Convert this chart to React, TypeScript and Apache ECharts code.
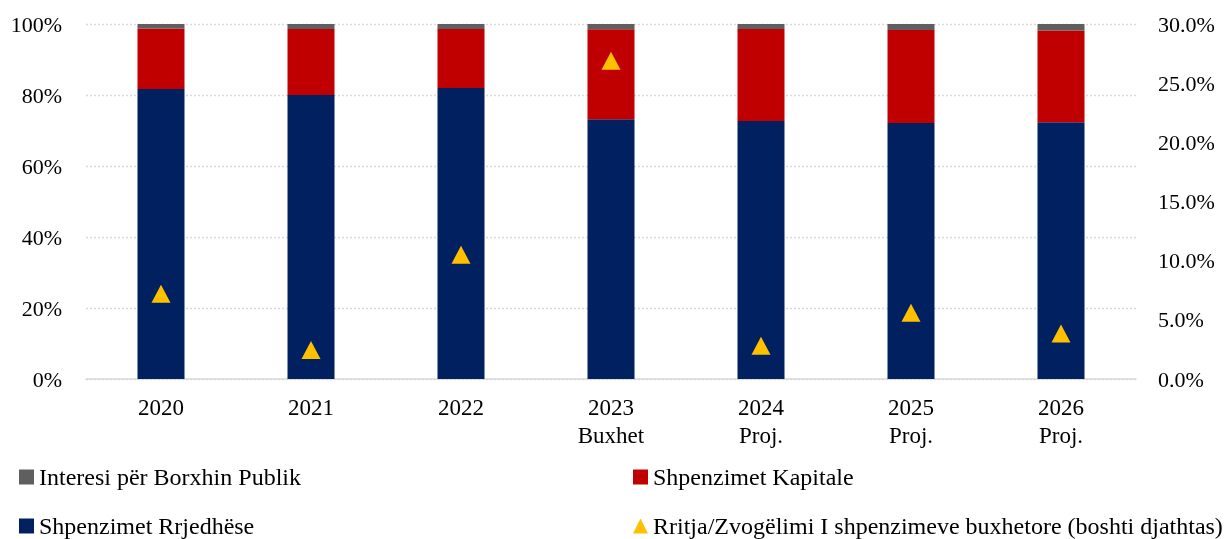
import React, { useEffect, useRef } from "react";
import * as echarts from "echarts";

const categories = ["2020", "2021", "2022", "2023\nBuxhet", "2024\nProj.", "2025\nProj.", "2026\nProj."];
const rrjedhese = [81.7, 80.0, 82.0, 73.2, 72.7, 72.1, 72.3];
const kapitale = [17.0, 18.6, 16.6, 25.3, 25.9, 26.2, 25.9];
const interesi = [1.3, 1.4, 1.4, 1.5, 1.4, 1.7, 1.8];
const rritja = [7.2, 2.45, 10.5, 26.9, 2.8, 5.6, 3.85];

const leftTicks = [0, 20, 40, 60, 80, 100];
const rightTicks = [0, 5, 10, 15, 20, 25, 30];

const NAME_INT = "Interesi për Borxhin Publik";
const NAME_KAP = "Shpenzimet Kapitale";
const NAME_RRJ = "Shpenzimet Rrjedhëse";
const NAME_RRI = "Rritja/Zvogëlimi I shpenzimeve buxhetore (boshti djathtas)";

const FONT = "'Liberation Serif', 'Times New Roman', serif";

export default function App() {
  const ref = useRef<HTMLDivElement>(null);
  useEffect(() => {
    if (!ref.current) return;
    const chart = echarts.init(ref.current, null, { renderer: "svg" });
    const legendText = { color: "#000", fontFamily: FONT, fontSize: 24 };
    const legendBase = {
      orient: "horizontal",
      itemWidth: 15,
      itemHeight: 15,
      itemGap: 0,
      padding: 0,
      selectedMode: false,
      textStyle: legendText,
    };
    chart.setOption({
      animation: false,
      textStyle: { fontFamily: FONT },
      grid: { left: 86, right: 90, top: 24, bottom: 160, containLabel: false },
      legend: [
        { ...legendBase, left: 19, top: 465, data: [{ name: NAME_INT, icon: "rect" }] },
        { ...legendBase, left: 633, top: 465, data: [{ name: NAME_KAP, icon: "rect" }] },
        { ...legendBase, left: 19, top: 514, data: [{ name: NAME_RRJ, icon: "rect" }] },
        { ...legendBase, left: 633, top: 514, data: [{ name: NAME_RRI, icon: "triangle" }] },
      ],
      xAxis: {
        type: "category",
        data: categories,
        axisLine: { show: true, lineStyle: { color: "#d9d9d9", width: 1.5 } },
        axisTick: { show: false },
        axisLabel: { color: "#000", fontFamily: FONT, fontSize: 23, lineHeight: 28, margin: 14 },
      },
      yAxis: [
        {
          type: "value",
          min: leftTicks[0],
          max: leftTicks[leftTicks.length - 1],
          interval: 20,
          axisLine: { show: false },
          axisTick: { show: false },
          splitLine: { show: true, lineStyle: { color: "#d9d9d9", type: [2, 2], width: 1.3 } },
          axisLabel: { color: "#000", fontFamily: FONT, fontSize: 22, margin: 24, formatter: (v: number) => `${v}%` },
        },
        {
          type: "value",
          min: rightTicks[0],
          max: rightTicks[rightTicks.length - 1],
          interval: 5,
          position: "right",
          axisLine: { show: false },
          axisTick: { show: false },
          splitLine: { show: false },
          axisLabel: { color: "#000", fontFamily: FONT, fontSize: 22, margin: 22, formatter: (v: number) => `${v.toFixed(1)}%` },
        },
      ],
      series: [
        {
          name: NAME_RRJ,
          type: "bar",
          stack: "total",
          barWidth: 47,
          data: rrjedhese,
          itemStyle: { color: "#002060" },
        },
        {
          name: NAME_KAP,
          type: "bar",
          stack: "total",
          barWidth: 47,
          data: kapitale,
          itemStyle: { color: "#c00000" },
        },
        {
          name: NAME_INT,
          type: "bar",
          stack: "total",
          barWidth: 47,
          data: interesi,
          itemStyle: { color: "#5f5f5f" },
        },
        {
          name: NAME_RRI,
          type: "scatter",
          yAxisIndex: 1,
          symbol: "triangle",
          symbolSize: [19, 18],
          data: rritja,
          itemStyle: { color: "#ffc000", opacity: 1 },
          z: 5,
        },
      ],
    });
    return () => chart.dispose();
  }, []);
  return <div ref={ref} style={{ position: "fixed", left: 0, top: 0, width: 1226, height: 539 }} />;
}
